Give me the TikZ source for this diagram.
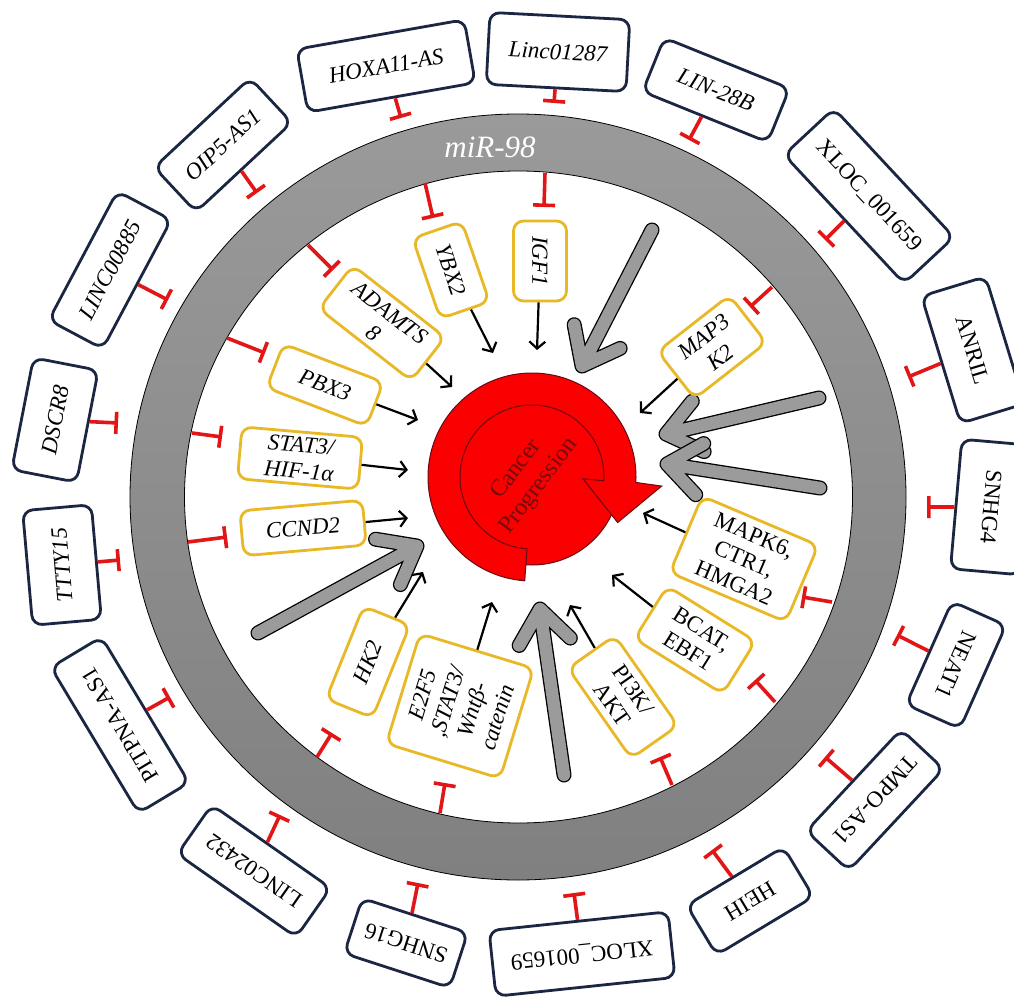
\documentclass[tikz,border=0pt]{standalone}
\usepackage{fontspec}
\setmainfont{Liberation Serif}
\usetikzlibrary{arrows.meta,calc}
\definecolor{navy}{RGB}{26,38,66}
\definecolor{gold}{RGB}{232,184,38}
\definecolor{tred}{RGB}{226,22,22}
\definecolor{ringlight}{RGB}{154,154,154}
\definecolor{ringdark}{RGB}{128,128,128}
\definecolor{arrgray}{RGB}{155,155,155}
\definecolor{cred}{RGB}{250,0,0}
\definecolor{cdark}{RGB}{105,10,20}
\definecolor{ctext}{RGB}{118,10,10}
\newcommand\lblfont{\fontsize{23}{26}\selectfont}
\begin{document}
\begin{tikzpicture}[x=1pt,y=-1pt,
  lnc/.style={draw=navy, line width=2.8pt, rounded corners=10pt, fill=white, inner sep=2pt, align=center, font=\lblfont},
  lnci/.style={lnc, font=\lblfont\itshape},
  gene/.style={draw=gold, line width=2.8pt, rounded corners=10pt, fill=white, inner sep=2pt, align=center, font=\lblfont\itshape},
  inh/.style={draw=tred, line width=3.6pt, -{Bar[width=22pt]}},
  act/.style={draw=black, line width=2.2pt, -{Straight Barb[length=7pt, width=16pt]}},
  gout/.style={line width=15pt, black, line cap=round, line join=round},
  gin/.style={line width=12.4pt, arrgray, line cap=round, line join=round}]
\useasboundingbox (0,0) rectangle (1014,1000);
\fill[white] (0,0) rectangle (1014,1000);

% ring
\shade[even odd rule, top color=ringlight, bottom color=ringdark]
  (518,497) ellipse [x radius=388, y radius=383]
  (518.5,497) ellipse [x radius=334, y radius=326];
\draw[line width=0.8pt] (518,497) ellipse [x radius=388, y radius=383];
\draw[line width=0.8pt] (518.5,497) ellipse [x radius=334, y radius=326];
\node[font=\fontsize{31}{31}\selectfont\itshape, text=white] (mir) at (490,147) {miR-98};

% outer lncRNA boxes
\node[lnci, rotate=10, minimum width=170pt, minimum height=64pt] (hoxa) at (386,66) {HOXA11-AS};
\node[lnci, rotate=-3, minimum width=140pt, minimum height=72pt] (linc1287) at (558,52) {Linc01287};
\node[lnci, rotate=-22, minimum width=135pt, minimum height=58pt] (lin28) at (716,90) {LIN-28B};
\node[lnc, rotate=-47, minimum width=176pt, minimum height=68pt] (xloct) at (869,196) {XLOC\_001659};
\node[lnc, rotate=-73, minimum width=133pt, minimum height=67pt] (anril) at (973,350) {ANRIL};
\node[lnc, rotate=-95, minimum width=130pt, minimum height=70pt] (snhg4) at (991,507) {SNHG4};
\node[lnc, rotate=-114, minimum width=113pt, minimum height=59pt] (neat1) at (956,665) {NEAT1};
\node[lnc, rotate=-133, minimum width=139pt, minimum height=58pt] (tmpo) at (875,800) {TMPO-AS1};
\node[lnc, rotate=-149, minimum width=113pt, minimum height=58pt] (heih) at (750,901) {HEIH};
\node[lnc, rotate=-174, minimum width=180pt, minimum height=66pt] (xlocb) at (582,954) {XLOC\_001659};
\node[lnc, rotate=162, minimum width=111pt, minimum height=58pt] (snhg16) at (406,943) {SNHG16};
\node[lnc, rotate=145, minimum width=145pt, minimum height=60pt] (linc2432) at (254,871) {LINC02432};
\node[lnc, rotate=121, minimum width=170pt, minimum height=59pt] (pitpna) at (120,725) {PITPNA-AS1};
\node[lnci, rotate=95, minimum width=115pt, minimum height=69pt] (ttty) at (62,565) {TTTY15};
\node[lnci, rotate=79, minimum width=114pt, minimum height=66pt] (dscr) at (55,420) {DSCR8};
\node[lnci, rotate=62, minimum width=146pt, minimum height=61pt] (linc885) at (110,270) {LINC00885};
\node[lnci, rotate=43, minimum width=131pt, minimum height=61pt] (oip5) at (223,145) {OIP5-AS1};

% outer inhibition bars
\foreach \b/\x/\y in {hoxa/401/118, linc1287/554/103, lin28/689/140, xloct/825/240,
  anril/908/377, snhg4/927/507, neat1/897/635, tmpo/825/757, heih/712/850,
  xlocb/574/893, snhg16/418/883, linc2432/280/815, pitpna/170/697, ttty/120/560,
  dscr/118/423, linc885/168/300, oip5/257/193}{
  \coordinate (\b T) at (\x,\y);
  \draw[inh] (\b) -- (\b T);
}

% gray arrows
\foreach \n/\sx/\sy/\ex/\ey in {1/652/230/582/366, 2/819/398/666/434, 3/820/488/667/464,
  4/258/633/417/546, 5/564/775/540/609}{
  \coordinate (g\n s) at (\sx,\sy);
  \coordinate (g\n e) at (\ex,\ey);
  \draw[gout] (g\n s) -- (g\n e) ($(g\n e)!42pt!38:(g\n s)$) -- (g\n e) -- ($(g\n e)!42pt!-38:(g\n s)$);
  \draw[gin] (g\n s) -- (g\n e) ($(g\n e)!42pt!38:(g\n s)$) -- (g\n e) -- ($(g\n e)!42pt!-38:(g\n s)$);
}

% central circular arrow
\coordinate (C) at (532,477);
\filldraw[fill=cred, draw=cdark, line width=1pt] (C) circle [radius=88];
\filldraw[fill=cred, draw=cdark, line width=1pt]
  ($(C)+(94:104)$) arc[start angle=94, end angle=363, radius=104]
  -- ($(C)+(364:130)$) -- ($(C)+(388:97)$) -- ($(C)+(362:51)$)
  -- ($(C)+(363:72)$) arc[start angle=363, end angle=94, radius=72] -- cycle;
\node[text=ctext, rotate=53, align=center, font=\fontsize{24}{28}\selectfont] (cp) at (528,478) {Cancer\\Progression};

% inner gene boxes
\node[gene, rotate=-71, minimum width=85pt, minimum height=52pt] (ybx) at (451,270) {YBX2};
\node[gene, rotate=-90, minimum width=80pt, minimum height=53pt] (igf) at (540,261) {IGF1};
\node[gene, rotate=-38, minimum width=117pt, minimum height=55pt] (adamts) at (382,323) {ADAMTS\\8};
\node[gene, rotate=-21, minimum width=107pt, minimum height=47pt] (pbx) at (325,385) {PBX3};
\node[gene, rotate=-5, minimum width=121pt, minimum height=52pt] (stat) at (300,458) {STAT3/\\HIF-1α};
\node[gene, rotate=5, minimum width=123pt, minimum height=45pt] (ccnd) at (303,528) {CCND2};
\node[gene, rotate=68, minimum width=100pt, minimum height=50pt] (hk) at (368,662) {HK2};
\node[gene, rotate=73, minimum width=115pt, minimum height=119pt] (e2f) at (460,706) {E2F5\\,STAT3/\\Wntβ-\\catenin};
\node[gene, rotate=-55, minimum width=110pt, minimum height=57pt, font=\lblfont] (pik) at (623,697) {PI3K/\\AKT};
\node[gene, rotate=-32, minimum width=104pt, minimum height=62pt, font=\lblfont] (bcat) at (695,640) {BCAT,\\EBF1};
\node[gene, rotate=-23, minimum width=126pt, minimum height=83pt, font=\lblfont] (mapk) at (744,559) {MAPK6,\\CTR1,\\HMGA2};
\node[gene, rotate=38, minimum width=91pt, minimum height=60pt] (map3) at (712,347) {MAP3\\K2};

% inner inhibition bars (ring -> gene)
\foreach \b/\rx/\ry/\x/\y in {ybx/425/183/433/218, igf/545/173/544/207, adamts/308/245/333/270,
  pbx/227/338/265/353, stat/192/433/222/437, ccnd/188/542/227/537, hk/317/757/332/733,
  e2f/440/813/445/783, pik/672/785/660/757, bcat/775/702/755/680, mapk/832/602/802/597,
  map3/772/287/750/307}{
  \coordinate (\b R) at (\rx,\ry);
  \coordinate (\b T) at (\x,\y);
  \draw[inh] (\b R) -- (\b T);
}

% activation arrows (gene -> cancer progression)
\foreach \b/\x/\y in {ybx/493/353, igf/537/350, adamts/452/387, pbx/418/420, stat/408/470,
  ccnd/408/518, hk/423/572, e2f/492/602, pik/570/605, bcat/612/575, mapk/643/513, map3/640/413}{
  \coordinate (\b A) at (\x,\y);
  \draw[act] (\b) -- (\b A);
}
\end{tikzpicture}
\end{document}
